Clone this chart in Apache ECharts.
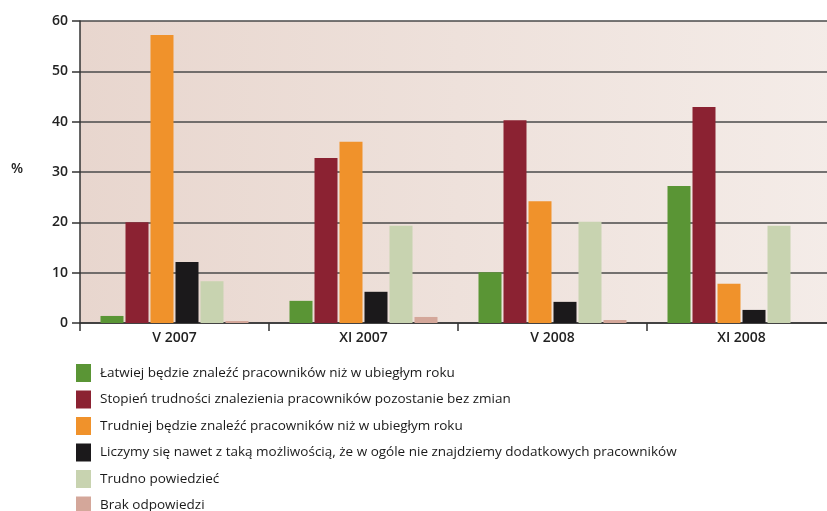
<!DOCTYPE html>
<html>
<head>
<meta charset="utf-8">
<script src="https://cdn.jsdelivr.net/npm/echarts@6/dist/echarts.min.js"></script>
<style>
  html, body { margin: 0; padding: 0; background: #fff; }
  #chart { width: 827px; height: 511px; }
</style>
</head>
<body>
<div id="chart"></div>
<script>
// dane
const categories = ['V 2007', 'XI 2007', 'V 2008', 'XI 2008']
const seriesNames = [
  'Łatwiej będzie znaleźć pracowników niż w ubiegłym roku',
  'Stopień trudności znalezienia pracowników pozostanie bez zmian',
  'Trudniej będzie znaleźć pracowników niż w ubiegłym roku',
  'Liczymy się nawet z taką możliwością, że w ogóle nie znajdziemy dodatkowych pracowników',
  'Trudno powiedzieć',
  'Brak odpowiedzi'
]
const latwiej = [1.4, 4.4, 10.1, 27.2]
const bezZmian = [20.0, 32.8, 40.3, 42.9]
const trudniej = [57.2, 36.0, 24.2, 7.8]
const nieZnajdziemy = [12.1, 6.2, 4.2, 2.6]
const trudnoPowiedziec = [8.3, 19.3, 20.1, 19.3]
const brak = [0.4, 1.2, 0.6, 0]
const yTicks = [0, 10, 20, 30, 40, 50, 60]

const colors = ['#5a9535', '#8b2232', '#f0922b', '#1b191b', '#c8d3b0', '#d4a79a']
const values = [latwiej, bezZmian, trudniej, nieZnajdziemy, trudnoPowiedziec, brak]

const chart = echarts.init(document.getElementById('chart'))
const font = '"Open Sans", "Noto Sans", sans-serif'

chart.setOption({
  animation: false,
  color: colors,
  textStyle: { fontFamily: font },
  grid: {
    left: 80,
    top: 21,
    width: 756,
    height: 302,
    outerBoundsMode: 'none',
    show: true,
    borderWidth: 0,
    backgroundColor: new echarts.graphic.LinearGradient(0, 0, 1, 0, [
      { offset: 0, color: '#e8d6ce' },
      { offset: 1, color: '#f4ece8' }
    ])
  },
  legend: {
    orient: 'vertical',
    left: 76,
    top: 364,
    height: 200,
    padding: 0,
    itemWidth: 15,
    itemHeight: 18,
    itemGap: 8.5,
    icon: 'rect',
    data: seriesNames,
    textStyle: { fontFamily: font, fontSize: 13.5, color: '#1a1a1a', padding: [0, 0, 0, 4] }
  },
  graphic: [{
    type: 'text',
    left: 11,
    top: 162,
    style: { text: '%', fontFamily: font, fontSize: 14, fontWeight: 600, fill: '#222' }
  }],
  xAxis: {
    type: 'category',
    data: categories,
    axisLine: { show: true, lineStyle: { color: '#333', width: 1.5 } },
    axisTick: { show: true, length: 8, lineStyle: { color: '#333', width: 1.5 } },
    axisLabel: { fontFamily: font, fontSize: 14, fontWeight: 600, color: '#222', margin: 8 }
  },
  yAxis: {
    type: 'value',
    min: yTicks[0],
    max: yTicks[yTicks.length - 1],
    interval: 10,
    axisLine: { show: true, lineStyle: { color: '#333', width: 1.5 } },
    axisTick: { show: true, length: 8, lineStyle: { color: '#333', width: 1.5 } },
    axisLabel: { fontFamily: font, fontSize: 14, fontWeight: 600, color: '#222', margin: 12 },
    splitLine: { show: true, lineStyle: { color: '#4a4a4a', width: 1.5 } }
  },
  series: seriesNames.map((name, i) => ({
    name: name,
    type: 'bar',
    data: values[i],
    barWidth: 23,
    barGap: '8.7%',
    barCategoryGap: '21%'
  }))
})
</script>
</body>
</html>
